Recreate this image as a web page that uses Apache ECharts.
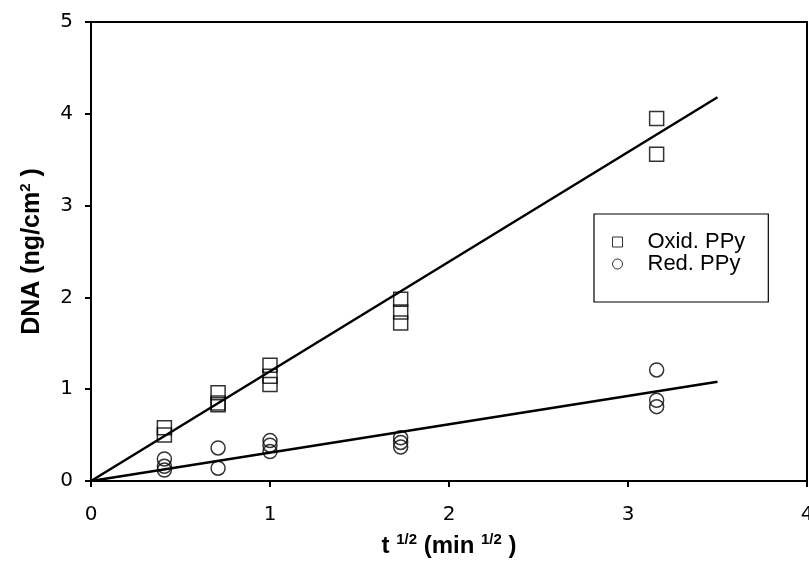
<!DOCTYPE html>
<html>
<head>
<meta charset="utf-8">
<script src="https://cdn.jsdelivr.net/npm/echarts@6/dist/echarts.min.js"></script>
<style>
  html, body { margin: 0; padding: 0; background: #fff; }
  #chart { width: 809px; height: 581px; }
</style>
</head>
<body>
<div id="chart"></div>
<script>
// measured points, [t^1/2, DNA]
const oxidPoints = [
  [0.41, 0.58], [0.41, 0.5],
  [0.71, 0.96], [0.71, 0.85], [0.71, 0.83],
  [1.0, 1.26], [1.0, 1.14], [1.0, 1.05],
  [1.73, 1.98], [1.73, 1.84], [1.73, 1.72],
  [3.16, 3.95], [3.16, 3.56],
];
const redPoints = [
  [0.41, 0.24], [0.41, 0.16], [0.41, 0.12],
  [0.71, 0.36], [0.71, 0.14],
  [1.0, 0.44], [1.0, 0.39], [1.0, 0.32],
  [1.73, 0.47], [1.73, 0.42], [1.73, 0.37],
  [3.16, 1.21], [3.16, 0.88], [3.16, 0.81],
];
// fitted lines through the origin
const oxidFit = [[0, 0], [3.5, 4.18]];
const redFit = [[0, 0], [3.5, 1.08]];

const chart = echarts.init(document.getElementById("chart"));
const font = "Liberation Sans, Arial, sans-serif";
const tickFont = "DejaVu Sans, sans-serif";

const titleRich = (size) => ({
  b: { fontFamily: font, fontSize: size, fontWeight: "bold", color: "#000", lineHeight: size + 4 },
  s: { fontFamily: font, fontSize: 15, fontWeight: "bold", color: "#000", lineHeight: 16, verticalAlign: "top" },
});

const marker = (name, symbol, data) => ({
  name,
  type: "scatter",
  symbol,
  symbolSize: 14,
  data,
  itemStyle: { color: "rgba(0,0,0,0)", borderColor: "#000", borderWidth: 1.5 },
  z: 3,
});

const fitLine = (data) => ({
  type: "line",
  data,
  symbol: "none",
  lineStyle: { color: "#000", width: 2.5 },
  silent: true,
  z: 2,
});

chart.setOption({
  animation: false,
  grid: {
    left: 91, right: 2, top: 22, bottom: 100,
    containLabel: false,
    outerBoundsMode: "none",
    show: true, borderColor: "#000", borderWidth: 2,
  },
  legend: {
    left: 594, top: 214,
    orient: "vertical",
    data: [
      { name: "Oxid. PPy", itemStyle: { borderWidth: 1 } },
      { name: "Red. PPy", itemStyle: { borderWidth: 1 } },
    ],
    itemWidth: 10, itemHeight: 10, itemGap: 0,
    padding: [17, 23, 27, 18],
    borderColor: "#000", borderWidth: 1.2,
    textStyle: { fontFamily: font, fontSize: 22, color: "#000", padding: [0, 0, 0, 20] },
  },
  xAxis: {
    type: "value",
    min: 0, max: 4, interval: 1,
    name: "{b|t }{s|1/2}{b| (min }{s|1/2}{b| )}",
    nameLocation: "middle",
    nameGap: 51,
    nameTextStyle: { rich: titleRich(24) },
    axisLine: { lineStyle: { color: "#000", width: 2 } },
    axisTick: { lineStyle: { color: "#000", width: 2 }, length: 6 },
    axisLabel: { fontFamily: tickFont, fontSize: 20, color: "#000", margin: 24 },
    splitLine: { show: false },
  },
  yAxis: {
    type: "value",
    min: 0, max: 5, interval: 1,
    name: "{b|DNA (ng/cm}{s|2}{b| )}",
    nameLocation: "middle",
    nameGap: 44,
    nameTextStyle: { rich: titleRich(25) },
    axisLine: { lineStyle: { color: "#000", width: 2 } },
    axisTick: { lineStyle: { color: "#000", width: 2 }, length: 6 },
    axisLabel: { fontFamily: tickFont, fontSize: 20, color: "#000", margin: 18 },
    splitLine: { show: false },
  },
  series: [
    fitLine(oxidFit),
    fitLine(redFit),
    marker("Oxid. PPy", "rect", oxidPoints),
    marker("Red. PPy", "circle", redPoints),
  ],
});
</script>
</body>
</html>
